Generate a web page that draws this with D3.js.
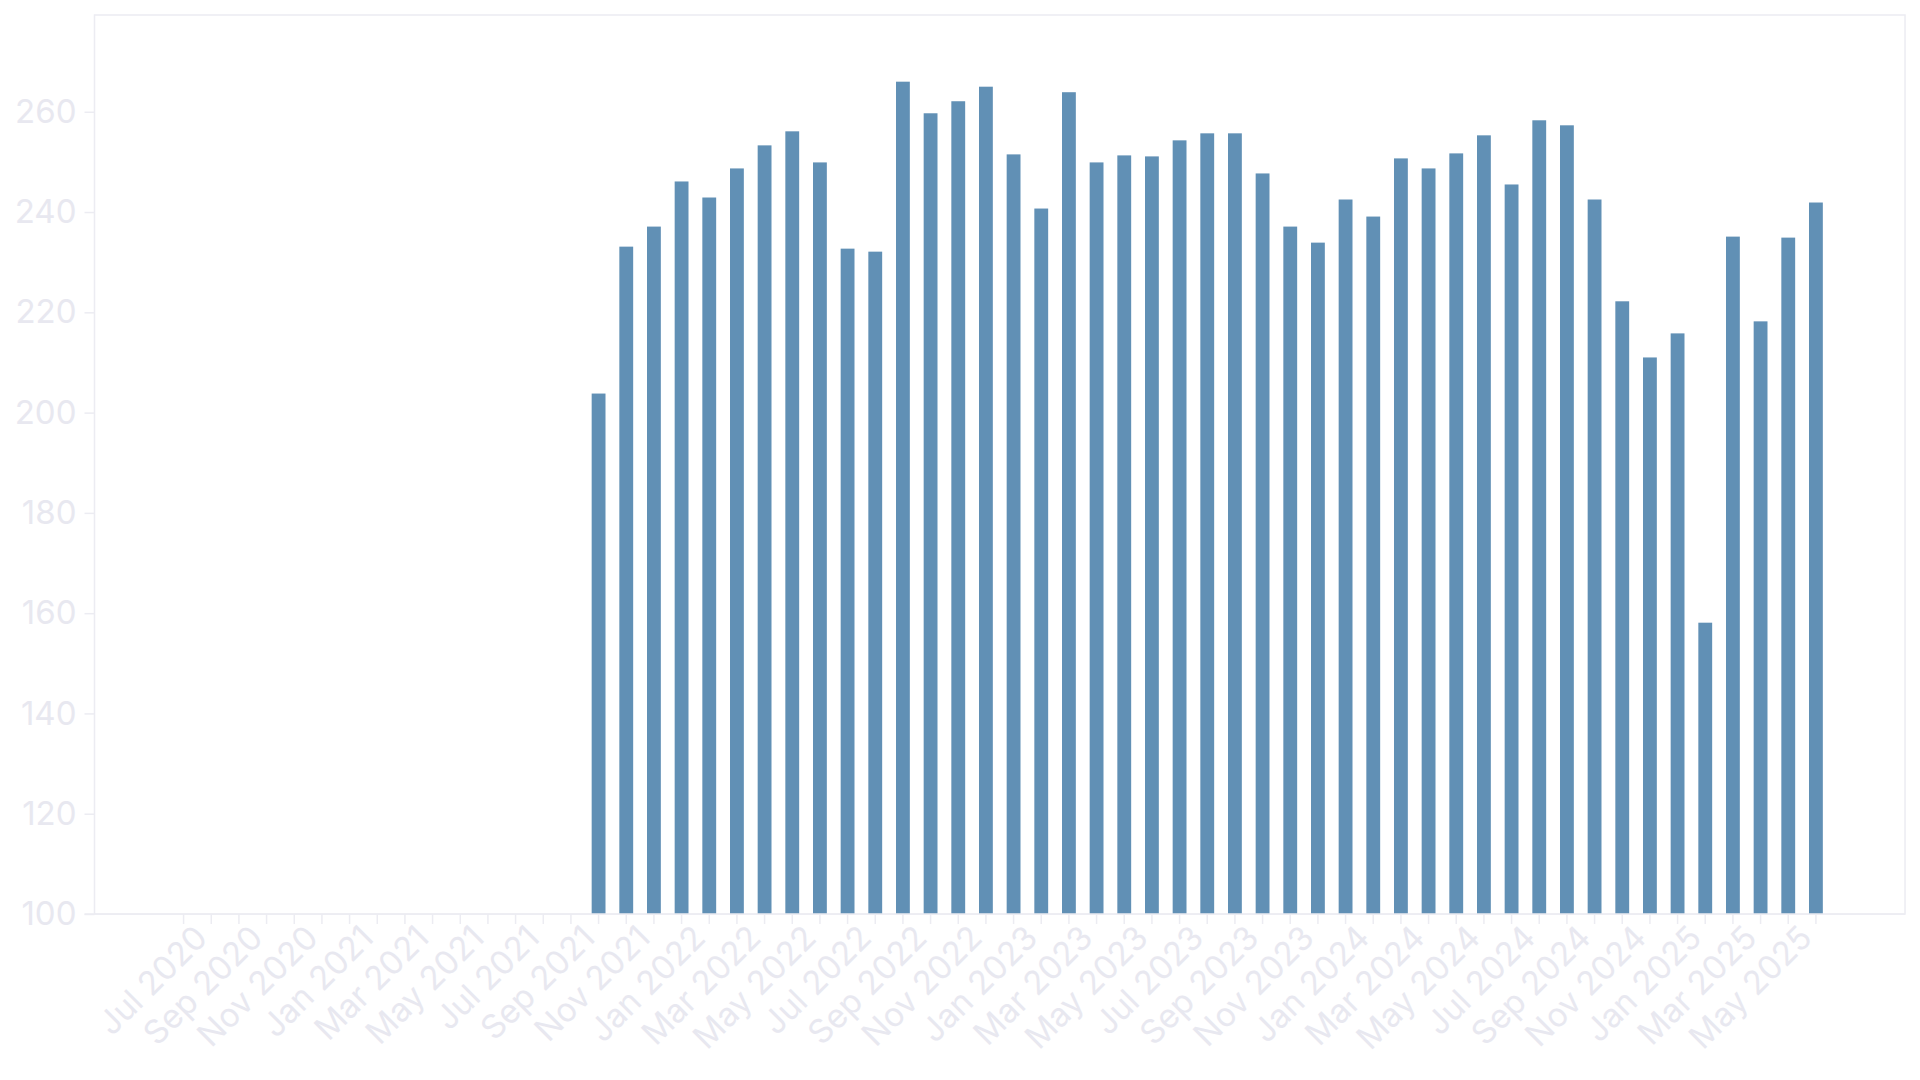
<!DOCTYPE html>
<html>
<head>
<meta charset="utf-8">
<script src="https://cdn.jsdelivr.net/npm/d3@7"></script>
<style>
  html, body { margin: 0; padding: 0; background: #fff; }
  svg text { font-family: Inter, "Noto Sans", sans-serif; }
</style>
</head>
<body>
<div id="chart"></div>
<script>
var months = [
  "Jul 2020", "Aug 2020", "Sep 2020", "Oct 2020", "Nov 2020", "Dec 2020",
  "Jan 2021", "Feb 2021", "Mar 2021", "Apr 2021", "May 2021", "Jun 2021",
  "Jul 2021", "Aug 2021", "Sep 2021", "Oct 2021", "Nov 2021", "Dec 2021",
  "Jan 2022", "Feb 2022", "Mar 2022", "Apr 2022", "May 2022", "Jun 2022",
  "Jul 2022", "Aug 2022", "Sep 2022", "Oct 2022", "Nov 2022", "Dec 2022",
  "Jan 2023", "Feb 2023", "Mar 2023", "Apr 2023", "May 2023", "Jun 2023",
  "Jul 2023", "Aug 2023", "Sep 2023", "Oct 2023", "Nov 2023", "Dec 2023",
  "Jan 2024", "Feb 2024", "Mar 2024", "Apr 2024", "May 2024", "Jun 2024",
  "Jul 2024", "Aug 2024", "Sep 2024", "Oct 2024", "Nov 2024", "Dec 2024",
  "Jan 2025", "Feb 2025", "Mar 2025", "Apr 2025", "May 2025", "Jun 2025"
];

// no values before Oct 2021
var values = [
  null, null, null, null, null, null,
  null, null, null, null, null, null,
  null, null, null, 203.8, 233.1, 237.1,
  246.1, 242.9, 248.7, 253.3, 256.1, 249.9,
  232.7, 232.1, 266.0, 259.7, 262.1, 265.0,
  251.5, 240.7, 263.9, 249.9, 251.3, 251.1,
  254.3, 255.7, 255.7, 247.7, 237.1, 233.9,
  242.5, 239.1, 250.7, 248.7, 251.7, 255.3,
  245.5, 258.3, 257.3, 242.5, 222.2, 211.0,
  215.8, 158.1, 235.1, 218.2, 234.9, 241.9
];

var yTicks = [100, 120, 140, 160, 180, 200, 220, 240, 260];
var yMin = 100;

var width = 1920,
    height = 1080,
    margin = {top: 15, right: 15, bottom: 166, left: 94.5};

var faint = '#e8e8f0',
    frame = '#ececf2',
    barColor = '#6190b5';

var svg = d3.select('#chart').append('svg')
  .attr('width', width)
  .attr('height', height);

var x = d3.scaleBand()
  .domain(months)
  .range([margin.left, width - margin.right])
  .paddingInner(0.5)
  .paddingOuter(2.97);

var y = d3.scaleLinear()
  .domain([yMin, d3.max(values) * 1.05])
  .range([height - margin.bottom, margin.top]);

// plot frame
svg.append('rect')
  .attr('x', margin.left)
  .attr('y', margin.top)
  .attr('width', width - margin.left - margin.right)
  .attr('height', height - margin.top - margin.bottom)
  .attr('fill', 'none')
  .attr('stroke', frame)
  .attr('stroke-width', 1.5);

svg.append('g')
  .selectAll('rect')
  .data(months.filter(function(m, i) { return values[i] != null; }))
  .enter().append('rect')
  .attr('x', function(d) { return x(d); })
  .attr('width', x.bandwidth())
  .attr('y', function(d) { return y(values[months.indexOf(d)]); })
  .attr('height', function(d) { return y(yMin) - y(values[months.indexOf(d)]); })
  .attr('fill', barColor);

var yAxis = svg.append('g')
  .attr('transform', 'translate(' + margin.left + ',0)')
  .call(d3.axisLeft(y).tickValues(yTicks).tickSize(10).tickPadding(8));

var xAxis = svg.append('g')
  .attr('transform', 'translate(0,' + (height - margin.bottom) + ')')
  .call(d3.axisBottom(x)
    .tickSize(10)
    .tickFormat(function(d, i) { return i % 2 === 0 ? d : ''; }));

xAxis.select('.domain').attr('d', 'M' + (margin.left - 10) + ',0H' + (width - margin.right));
yAxis.select('.domain').remove();

svg.selectAll('.tick line').attr('stroke', frame).attr('stroke-width', 1.5);
svg.selectAll('.domain').attr('stroke', frame).attr('stroke-width', 1.5);
svg.selectAll('.tick text')
  .attr('fill', faint)
  .style('font-size', '33px');

xAxis.selectAll('.tick text')
  .attr('text-anchor', 'end')
  .attr('transform', 'rotate(-45)');
</script>
</body>
</html>
